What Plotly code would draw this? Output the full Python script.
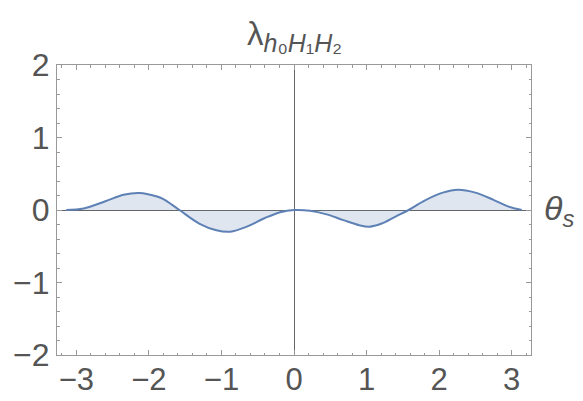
import plotly.graph_objects as go

# data
theta = [-3.14, -2.9, -2.6, -2.35, -2.13, -1.9, -1.8, -1.58, -1.3, -1.07, -0.88, -0.65,
         -0.4, -0.19, 0.0, 0.22, 0.45, 0.68, 0.9, 1.04, 1.2, 1.4, 1.58, 1.8, 2.05,
         2.26, 2.5, 2.75, 2.95, 3.14]
lam = [0.0, 0.02, 0.12, 0.21, 0.235, 0.19, 0.15, 0.0, -0.19, -0.28, -0.30, -0.23,
       -0.11, -0.03, 0.0, -0.01, -0.06, -0.14, -0.21, -0.23, -0.19, -0.09, 0.0, 0.13,
       0.24, 0.28, 0.24, 0.14, 0.05, 0.0]
x_ticks = [-3, -2, -1, 0, 1, 2, 3]
x_labels = ["−3", "−2", "−1", "0", "1", "2", "3"]
y_ticks = [-2, -1, 0, 1, 2]
y_labels = ["−2", "−1", "0", "1", "2"]

line_col = "#5E81B5"
frame_col = "#999999"
text_col = "#555555"
font_family = "Liberation Sans, Arial, sans-serif"

fig = go.Figure()
fig.add_trace(go.Scatter(
    x=theta, y=lam, mode="lines",
    line=dict(color=line_col, width=2, shape="spline", smoothing=1.0),
    fill="tozeroy", fillcolor="rgba(94,129,181,0.2)",
    hoverinfo="skip", showlegend=False,
))

axis_common = dict(
    showline=True, linecolor=frame_col, linewidth=1, mirror="ticks",
    ticks="inside", ticklen=5, tickcolor=frame_col, tickwidth=1,
    showgrid=False, zeroline=True, zerolinecolor="#666666", zerolinewidth=1,
    fixedrange=True, automargin=False,
)

fig.update_layout(
    width=583, height=401,
    margin=dict(l=49, r=60, t=57, b=54),
    paper_bgcolor="white", plot_bgcolor="white",
    xaxis=dict(range=[-3.267, 3.267], tickvals=x_ticks, ticktext=x_labels,
               tickfont=dict(family=font_family, size=31, color=text_col),
               ticklabelstandoff=-3,
               minor=dict(ticks="inside", ticklen=2.5, dtick=0.2, tick0=0,
                          tickcolor=frame_col, showgrid=False),
               **axis_common),
    yaxis=dict(range=[-2, 2], tickvals=y_ticks, ticktext=y_labels,
               tickfont=dict(family=font_family, size=32, color=text_col),
               minor=dict(ticks="inside", ticklen=2.5, dtick=0.2, tick0=0,
                          tickcolor=frame_col, showgrid=False),
               **axis_common),
    annotations=[
        dict(
            text=("λ<sub><span style='font-size:25px'><i>h</i>₀<i>H</i>₁"
                  "<i>H</i>₂</span></sub>"),
            xref="paper", yref="paper", x=0.5, y=1.0,
            xanchor="center", yanchor="bottom", yshift=6,
            showarrow=False,
            font=dict(family=font_family, size=33, color=text_col),
        ),
        dict(
            text="<i>θ</i><sub><i>s</i></sub>", xref="paper", yref="y",
            x=1.0, y=0, xanchor="left", yanchor="middle", xshift=11,
            showarrow=False,
            font=dict(family=font_family, size=34, color=text_col),
        ),
    ],
)

fig.write_html("out.html")
